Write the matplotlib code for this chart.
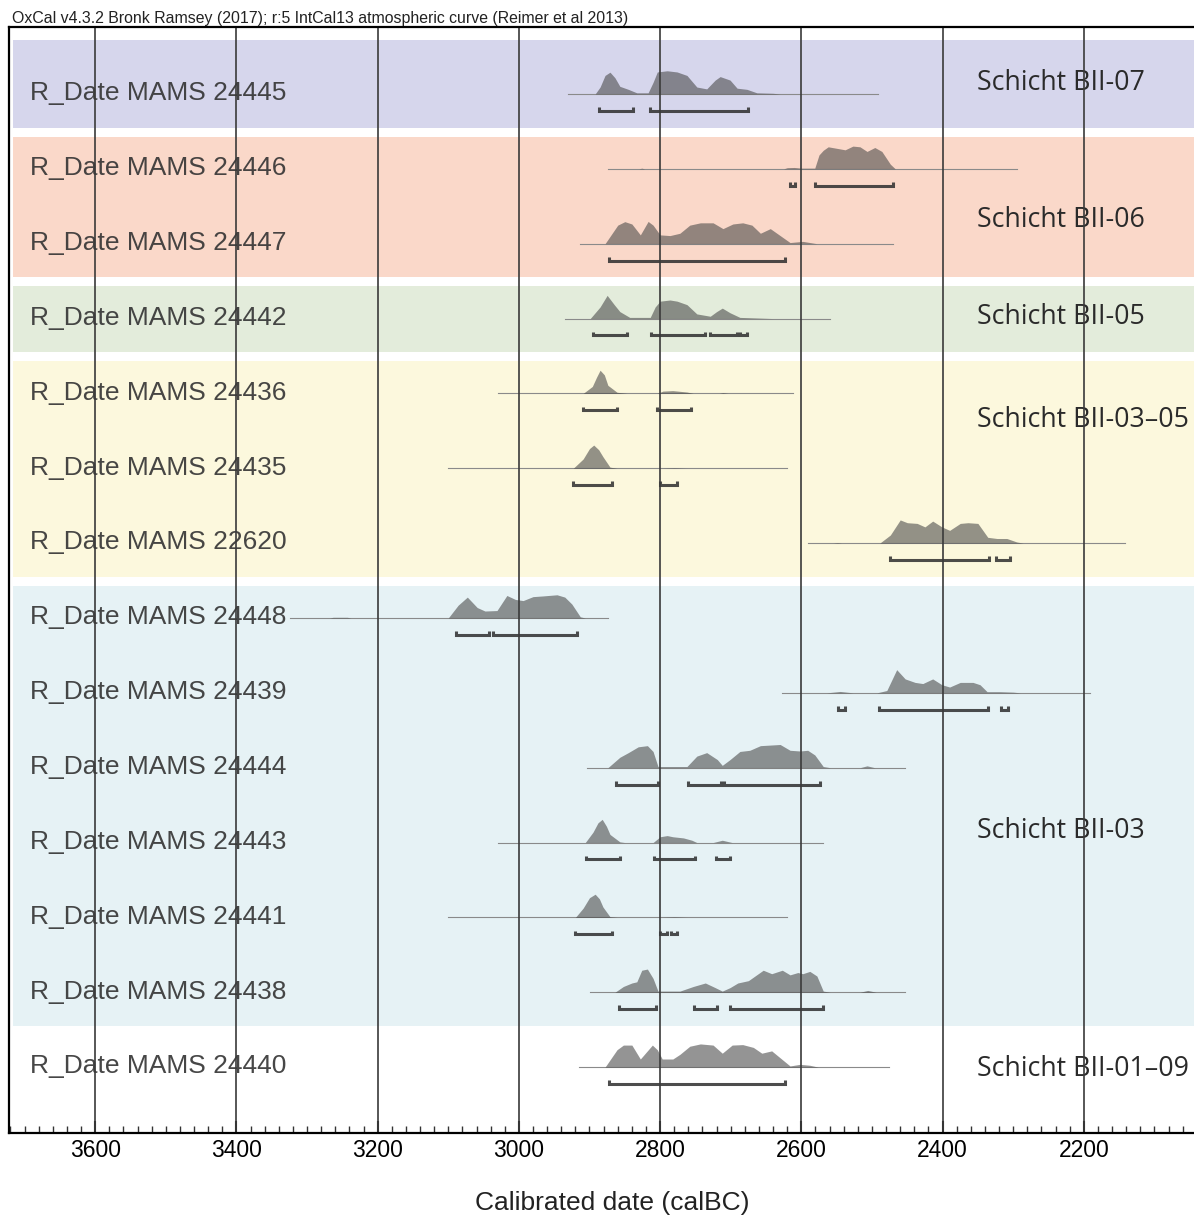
import matplotlib
matplotlib.use("Agg")
from matplotlib import pyplot as plt

plt.rcParams['font.family'] = ['Liberation Sans', 'DejaVu Sans']

# sample order (top to bottom)
samples = ["24445", "24446", "24447", "24442", "24436", "24435", "22620",
           "24448", "24439", "24444", "24443", "24441", "24438", "24440"]

# probability curves: years (calBC) and relative height
yr_24445 = [2892, 2885, 2878, 2871, 2864, 2857, 2845, 2833, 2817, 2810, 2804, 2790, 2776, 2762,
            2748, 2734, 2722, 2715, 2701, 2691, 2677, 2663, 2640, 2630]
p_24445 = [0, 0.3, 0.8, 0.94, 0.7, 0.33, 0.2, 0.05, 0.05, 0.5, 0.95, 1.0, 0.95, 0.8,
           0.3, 0.22, 0.6, 0.75, 0.6, 0.25, 0.2, 0.05, 0.03, 0]
yr_24446 = [2830, 2826, 2822, 2625, 2620, 2610, 2600, 2581, 2575, 2569, 2562, 2549, 2538, 2527,
            2517, 2507, 2496, 2486, 2474, 2467]
p_24446 = [0, 0.03, 0, 0, 0.05, 0.06, 0.03, 0.03, 0.6, 0.8, 0.95, 0.88, 0.82, 0.98,
           0.95, 0.75, 0.92, 0.75, 0.2, 0]
yr_24447 = [2878, 2860, 2850, 2840, 2828, 2817, 2810, 2800, 2786, 2772, 2758, 2743, 2725, 2711,
            2697, 2683, 2670, 2658, 2644, 2630, 2616, 2598, 2578]
p_24447 = [0, 0.8, 0.95, 0.85, 0.38, 0.96, 0.8, 0.38, 0.35, 0.45, 0.8, 0.9, 0.9, 0.65,
           0.85, 0.9, 0.8, 0.45, 0.65, 0.35, 0.05, 0.1, 0]
yr_24442 = [2899, 2885, 2875, 2865, 2857, 2843, 2814, 2807, 2800, 2786, 2776, 2762, 2748, 2729,
            2720, 2712, 2701, 2687, 2668, 2640]
p_24442 = [0, 0.5, 1.0, 0.6, 0.3, 0.05, 0.05, 0.5, 0.75, 0.8, 0.75, 0.6, 0.2, 0.1,
           0.3, 0.45, 0.25, 0.05, 0.03, 0]
yr_24436 = [2909, 2896, 2890, 2885, 2879, 2874, 2861, 2847, 2804, 2796, 2782, 2762, 2753, 2716,
            2711, 2704]
p_24436 = [0, 0.3, 0.7, 1.0, 0.8, 0.35, 0.05, 0, 0, 0.1, 0.12, 0.06, 0, 0, 0.03, 0]
yr_24435 = [2923, 2909, 2900, 2894, 2887, 2881, 2871, 2861, 2800, 2780, 2762]
p_24435 = [0, 0.4, 0.85, 1.0, 0.8, 0.5, 0.05, 0, 0, 0.02, 0]
yr_22620 = [2555, 2549, 2543, 2489, 2474, 2460, 2450, 2436, 2425, 2414, 2401, 2390, 2375, 2364,
            2350, 2336, 2323, 2309, 2295, 2286]
p_22620 = [0, 0.02, 0, 0, 0.35, 1.0, 0.88, 0.85, 0.7, 0.95, 0.7, 0.55, 0.85, 0.88,
           0.85, 0.25, 0.2, 0.2, 0.05, 0]
yr_24448 = [3268, 3263, 3243, 3238, 3100, 3086, 3073, 3059, 3048, 3031, 3017, 3005, 2994, 2980,
            2966, 2946, 2935, 2925, 2913, 2906]
p_24448 = [0, 0.03, 0.03, 0, 0, 0.55, 0.9, 0.45, 0.3, 0.32, 0.97, 0.8, 0.75, 0.92,
           0.95, 1.0, 0.9, 0.6, 0.05, 0]
yr_24439 = [2564, 2545, 2527, 2493, 2479, 2465, 2453, 2439, 2428, 2414, 2401, 2390, 2375, 2357,
            2347, 2337, 2319, 2300, 2290]
p_24439 = [0, 0.06, 0, 0, 0.1, 1.0, 0.6, 0.45, 0.4, 0.6, 0.35, 0.25, 0.45, 0.45,
           0.35, 0.05, 0.05, 0.03, 0]
yr_24444 = [2874, 2857, 2845, 2831, 2818, 2810, 2803, 2776, 2762, 2748, 2734, 2719, 2712, 2701,
            2687, 2673, 2658, 2630, 2616, 2602, 2591, 2581, 2569, 2559, 2517, 2507, 2496]
p_24444 = [0, 0.45, 0.65, 0.9, 0.95, 0.7, 0.05, 0.05, 0.05, 0.5, 0.65, 0.35, 0.1, 0.35,
           0.7, 0.75, 0.95, 1.0, 0.75, 0.72, 0.75, 0.55, 0.05, 0, 0, 0.08, 0]
yr_24443 = [2906, 2895, 2888, 2882, 2876, 2871, 2857, 2850, 2810, 2800, 2790, 2782, 2767, 2755,
            2748, 2725, 2712, 2698]
p_24443 = [0, 0.45, 0.85, 1.0, 0.7, 0.35, 0.03, 0, 0, 0.25, 0.3, 0.25, 0.2, 0.1,
           0, 0, 0.1, 0]
yr_24441 = [2920, 2909, 2900, 2892, 2886, 2881, 2871, 2861, 2800, 2780, 2762]
p_24441 = [0, 0.4, 0.85, 1.0, 0.8, 0.45, 0.03, 0, 0, 0.02, 0]
yr_24438 = [2864, 2852, 2840, 2833, 2826, 2818, 2810, 2803, 2772, 2753, 2736, 2722, 2712, 2701,
            2690, 2675, 2654, 2642, 2627, 2616, 2605, 2598, 2588, 2578, 2569, 2559, 2517, 2506, 2494]
p_24438 = [0, 0.25, 0.4, 0.45, 0.95, 1.0, 0.6, 0.05, 0.05, 0.25, 0.4, 0.2, 0.05, 0.2,
           0.4, 0.5, 0.95, 0.8, 0.95, 0.75, 0.85, 0.8, 0.9, 0.7, 0.05, 0, 0, 0.08, 0]
yr_24440 = [2878, 2861, 2852, 2840, 2828, 2811, 2804, 2797, 2782, 2772, 2758, 2743, 2725, 2712,
            2698, 2683, 2668, 2656, 2642, 2630, 2616, 2602, 2588, 2576]
p_24440 = [0, 0.75, 0.95, 0.95, 0.35, 0.95, 0.75, 0.35, 0.35, 0.55, 0.9, 1.0, 0.95, 0.6,
           0.95, 0.97, 0.85, 0.6, 0.7, 0.4, 0.05, 0.12, 0.08, 0]

# extent of the thin calibration line for each sample
span_start = [2930, 2874, 2913, 2935, 3029, 3100, 2590, 3324, 2627, 2903, 3029, 3100, 2899, 2915]
span_end = [2491, 2295, 2470, 2559, 2612, 2620, 2142, 2874, 2191, 2453, 2569, 2620, 2453, 2476]

# 95.4% ranges
ranges = {
    "24445": [(2886, 2838), (2814, 2675)],
    "24446": [(2616, 2609), (2581, 2470)],
    "24447": [(2872, 2623)],
    "24442": [(2895, 2847), (2813, 2736), (2729, 2691), (2687, 2677)],
    "24436": [(2909, 2861), (2804, 2756)],
    "24435": [(2923, 2868), (2800, 2776)],
    "22620": [(2474, 2334), (2324, 2305)],
    "24448": [(3089, 3042), (3036, 2918)],
    "24439": [(2548, 2538), (2490, 2336), (2317, 2307)],
    "24444": [(2862, 2803), (2760, 2714), (2709, 2574)],
    "24443": [(2905, 2857), (2808, 2751), (2721, 2701)],
    "24441": [(2920, 2868), (2800, 2790), (2784, 2776)],
    "24438": [(2858, 2806), (2752, 2719), (2701, 2569)],
    "24440": [(2872, 2623)],
}

curves = {
    "24445": (yr_24445, p_24445), "24446": (yr_24446, p_24446), "24447": (yr_24447, p_24447),
    "24442": (yr_24442, p_24442), "24436": (yr_24436, p_24436), "24435": (yr_24435, p_24435),
    "22620": (yr_22620, p_22620), "24448": (yr_24448, p_24448), "24439": (yr_24439, p_24439),
    "24444": (yr_24444, p_24444), "24443": (yr_24443, p_24443), "24441": (yr_24441, p_24441),
    "24438": (yr_24438, p_24438), "24440": (yr_24440, p_24440),
}

# layers (Schichten)
group_names = ["Schicht BII-07", "Schicht BII-06", "Schicht BII-05", "Schicht BII-03\u201305",
               "Schicht BII-03", "Schicht BII-01\u201309"]
group_first = [0, 1, 3, 4, 7, 13]
group_last = [0, 2, 3, 6, 12, 13]
group_label_y = [-0.15, 1.68, 2.98, 4.35, 9.85, 13.03]
group_colors = ["#d6d6ec", "#fad8c9", "#e3ecdb", "#fcf8dd", "#e6f2f5", "white"]

fig = plt.figure(figsize=(11.94, 12.18), dpi=100)
ax = fig.add_axes([9 / 1194, 1 - 1133 / 1218, 1 - 9 / 1194, (1133 - 27) / 1218])
ax.set_xlim(3722, 2044)
ax.set_ylim(13.88, -0.895)

# coloured bands
for i in range(len(group_names)):
    top = group_first[i] - (0.72 if i == 0 else 0.43)
    bot = group_last[i] + 0.45
    ax.axhspan(top, bot, xmin=0.003, xmax=1, color=group_colors[i], lw=0, zorder=0)
    ax.text(2351, group_label_y[i], group_names[i], family=['Open Sans', 'DejaVu Sans'],
            fontsize=19.3, color="#2a2a2a", ha="left", va="center", zorder=3)

peak = 0.31
for row, s in enumerate(samples):
    yrs, ps = curves[s]
    ax.plot([span_start[row], span_end[row]], [row, row], color="#8a8a8a", lw=0.8, zorder=1)
    ax.fill_between(yrs, row, [row - p * peak for p in ps], color="#444444", alpha=0.57,
                    lw=0, zorder=2)
    by = row + 0.225
    for a, b in ranges[s]:
        ax.plot([a, a, b, b], [by - 0.05, by, by, by - 0.05], color="#2e2e2e", alpha=0.85,
                lw=2.2, solid_joinstyle="miter", solid_capstyle="butt", zorder=2)
    ax.text(3692, row - 0.01, "R_Date MAMS " + s, fontsize=19, color="#333333", alpha=0.9,
            ha="left", va="center", zorder=3)

# vertical grid
for x in range(2200, 3601, 200):
    ax.axvline(x, color="#3a3a3a", lw=1.2, zorder=4)

ax.set_xticks(range(2200, 3601, 200))
ax.set_xticks(range(2060, 3721, 20), minor=True)
ax.set_yticks([])
ax.tick_params(axis="x", which="major", direction="in", length=9, width=1.5,
               labelsize=16.5, pad=4, color="#222222")
ax.tick_params(axis="x", which="minor", direction="in", length=5, width=1, color="#333333")
ax.spines["right"].set_visible(False)
for side in ["left", "top", "bottom"]:
    ax.spines[side].set_linewidth(1.6)
    ax.spines[side].set_zorder(5)

fig.text(12 / 1194, 1 - 18 / 1218,
         "OxCal v4.3.2 Bronk Ramsey (2017); r:5 IntCal13 atmospheric curve (Reimer et al 2013)",
         fontsize=11.4, color="#222222", ha="left", va="center")
fig.text(612 / 1194, 1 - 1203 / 1218, "Calibrated date (calBC)", fontsize=19, color="#222222",
         ha="center", va="center")

plt.savefig("out.png", dpi=100)
